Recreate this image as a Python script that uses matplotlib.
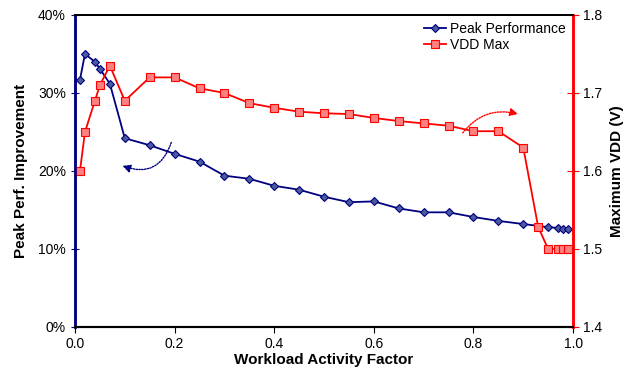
import matplotlib
matplotlib.use("Agg")

import matplotlib.pyplot as plt
from matplotlib.patches import FancyArrowPatch
from matplotlib.ticker import FuncFormatter

plt.rcParams["font.family"] = ["Liberation Sans", "DejaVu Sans"]

# data
activity = [0.01, 0.02, 0.04, 0.05, 0.07, 0.10, 0.15, 0.20, 0.25, 0.30,
            0.35, 0.40, 0.45, 0.50, 0.55, 0.60, 0.65, 0.70, 0.75, 0.80,
            0.85, 0.90, 0.93, 0.95, 0.97, 0.98, 0.99]

peak_perf = [31.7, 35.0, 34.0, 33.1, 31.2, 24.2, 23.3, 22.2, 21.2, 19.4,
             19.0, 18.1, 17.6, 16.7, 16.0, 16.1, 15.2, 14.7, 14.7, 14.1,
             13.6, 13.2, None, 12.8, 12.7, 12.6, 12.5]

vdd_max = [1.60, 1.65, 1.69, 1.71, 1.735, 1.69, 1.72, 1.72, 1.706, 1.70,
           1.687, 1.681, 1.676, 1.674, 1.673, 1.668, 1.664, 1.661, 1.658, 1.651,
           1.651, 1.63, 1.528, 1.50, 1.50, 1.50, 1.50]

x_ticks = [0.0, 0.2, 0.4, 0.6, 0.8, 1.0]
left_ticks = [0, 10, 20, 30, 40]
right_ticks = [1.4, 1.5, 1.6, 1.7, 1.8]

perf_x = [a for a, p in zip(activity, peak_perf) if p is not None]
perf_y = [p for p in peak_perf if p is not None]

fig = plt.figure(figsize=(6.27, 3.72), dpi=100)
ax = fig.add_axes([0.1196, 0.121, 0.7944, 0.8387])
ax2 = ax.twinx()

ax.plot(perf_x, perf_y, color="#000080", lw=1.3, marker="D", ms=4.2,
        mfc="#4a5a9e", mec="#000080", mew=0.8, label="Peak Performance")
ax2.plot(activity, vdd_max, color="#ff0000", lw=1.3, marker="s", ms=5.3,
         mfc="#ff8080", mec="#ff0000", mew=0.8, label="VDD Max")

ax.set_xlim(0, 1.0)
ax.set_ylim(0, 40)
ax2.set_ylim(1.4, 1.8)
ax.set_xticks(x_ticks)
ax.set_yticks(left_ticks)
ax2.set_yticks(right_ticks)
ax.xaxis.set_major_formatter(FuncFormatter(lambda v, p: f"{v:.1f}"))
ax.yaxis.set_major_formatter(FuncFormatter(lambda v, p: f"{v:.0f}%"))
ax2.yaxis.set_major_formatter(FuncFormatter(lambda v, p: f"{v:.1f}"))

ax.tick_params(axis="x", direction="out", length=4, labelsize=10, color="black")
ax.tick_params(axis="y", direction="inout", length=6, labelsize=10, color="#000080")
ax2.tick_params(axis="y", direction="inout", length=8, labelsize=10, color="#ff0000")

for a in (ax, ax2):
    a.spines["left"].set_color("#000080")
    a.spines["left"].set_linewidth(1.8)
    a.spines["right"].set_color("#ff0000")
    a.spines["right"].set_linewidth(1.8)
    a.spines["top"].set_linewidth(1.3)
    a.spines["bottom"].set_linewidth(1.5)

ax.set_xlabel("Workload Activity Factor", fontsize=11, fontweight="bold", labelpad=1)
ax.set_ylabel("Peak Perf. Improvement", fontsize=11, fontweight="bold", labelpad=7)
ax2.set_ylabel("Maximum VDD (V)", fontsize=11, fontweight="bold", labelpad=5)

# dotted curved arrows pointing to each series' axis
ax.add_patch(FancyArrowPatch((0.195, 24.0), (0.09, 20.8),
                             connectionstyle="arc3,rad=-0.55", arrowstyle="-|>",
                             mutation_scale=12, color="#000080", lw=1, ls=(0, (1, 1))))
ax2.add_patch(FancyArrowPatch((0.775, 1.646), (0.895, 1.672),
                              connectionstyle="arc3,rad=-0.35", arrowstyle="-|>",
                              mutation_scale=12, color="#ff0000", lw=1, ls=(0, (1, 1))))

h1, l1 = ax.get_legend_handles_labels()
h2, l2 = ax2.get_legend_handles_labels()
ax2.legend(h1 + h2, l1 + l2, loc="upper right", frameon=False, fontsize=10,
           handlelength=1.6, handletextpad=0.3, labelspacing=0.15,
           borderaxespad=0.1, bbox_to_anchor=(1.0, 1.0))

fig.savefig("out.png", dpi=100)
